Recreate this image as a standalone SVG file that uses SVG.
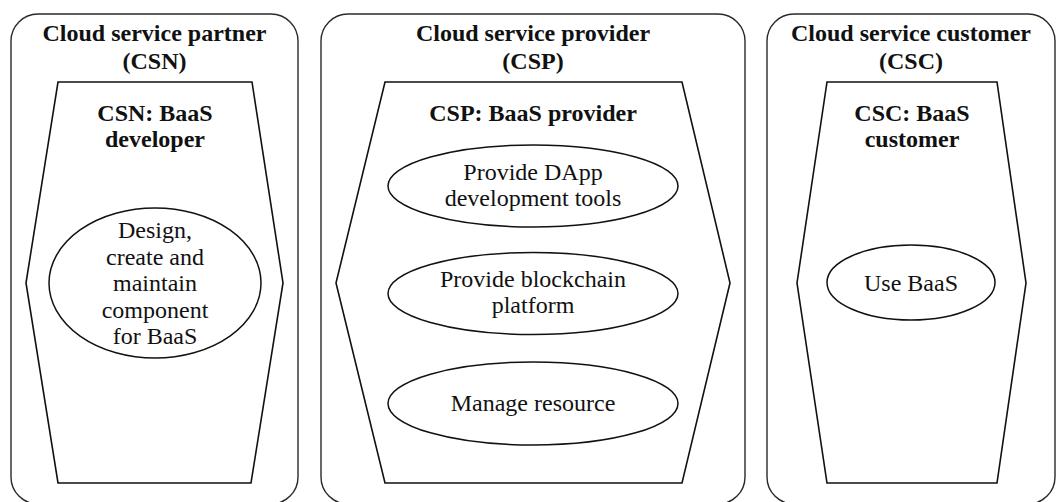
<svg xmlns="http://www.w3.org/2000/svg" width="1056" height="502" viewBox="0 0 1056 502">
  <style>
    .frame { fill: none; stroke: #2a2a2a; stroke-width: 1.4; }
    .role { fill: none; stroke: #111; stroke-width: 1.6; stroke-linejoin: miter; }
    .act { fill: none; stroke: #111; stroke-width: 1.5; }
    .title { font-family: "Liberation Serif", "Times New Roman", serif; font-size: 24px; font-weight: bold; fill: #111; text-anchor: middle; }
    .label { font-family: "Liberation Serif", "Times New Roman", serif; font-size: 24px; fill: #111; text-anchor: middle; }
  </style>
  <rect width="1056" height="502" fill="#fff"/>

  <!-- Cloud service partner -->
  <g id="csn">
    <rect class="frame" x="11" y="14" width="287" height="490" rx="27" ry="27"/>
    <text class="title" x="154.5" y="41">Cloud service partner</text>
    <text class="title" x="154.5" y="69">(CSN)</text>
    <g id="csn-role">
      <polygon class="role" points="58,82 252,82 283,283 251,483 58,483 26,283"/>
      <text class="title" x="155" y="121">CSN: BaaS</text>
      <text class="title" x="155" y="147">developer</text>
    </g>
    <g id="csn-design">
      <ellipse class="act" cx="155" cy="283" rx="106" ry="75"/>
      <text class="label" x="155" y="238">Design,</text>
      <text class="label" x="155" y="264.5">create and</text>
      <text class="label" x="155" y="291">maintain</text>
      <text class="label" x="155" y="317.5">component</text>
      <text class="label" x="155" y="344">for BaaS</text>
    </g>
  </g>

  <!-- Cloud service provider -->
  <g id="csp">
    <rect class="frame" x="321" y="14" width="424" height="490" rx="27" ry="27"/>
    <text class="title" x="533" y="41">Cloud service provider</text>
    <text class="title" x="533" y="69">(CSP)</text>
    <g id="csp-role">
      <polygon class="role" points="385,82 682,82 730,283 682,483 385,483 336,283"/>
      <text class="title" x="533" y="121">CSP: BaaS provider</text>
    </g>
    <g id="csp-tools">
      <ellipse class="act" cx="533" cy="186" rx="145" ry="41"/>
      <text class="label" x="533" y="179.5">Provide DApp</text>
      <text class="label" x="533" y="205.5">development tools</text>
    </g>
    <g id="csp-platform">
      <ellipse class="act" cx="533" cy="293.5" rx="145" ry="41"/>
      <text class="label" x="533" y="287">Provide blockchain</text>
      <text class="label" x="533" y="313">platform</text>
    </g>
    <g id="csp-resource">
      <ellipse class="act" cx="533" cy="403.5" rx="145" ry="41.5"/>
      <text class="label" x="533" y="411">Manage resource</text>
    </g>
  </g>

  <!-- Cloud service customer -->
  <g id="csc">
    <rect class="frame" x="767" y="14" width="288" height="490" rx="27" ry="27"/>
    <text class="title" x="911" y="41">Cloud service customer</text>
    <text class="title" x="911" y="69">(CSC)</text>
    <g id="csc-role">
      <polygon class="role" points="827,82 997,82 1026,283 997,483 827,483 797,283"/>
      <text class="title" x="912" y="121">CSC: BaaS</text>
      <text class="title" x="912" y="147">customer</text>
    </g>
    <g id="csc-use">
      <ellipse class="act" cx="911" cy="282.5" rx="84" ry="37.5"/>
      <text class="label" x="911" y="291">Use BaaS</text>
    </g>
  </g>

  <!-- no connectors between the roles -->
  <g id="connectors"/>
</svg>
